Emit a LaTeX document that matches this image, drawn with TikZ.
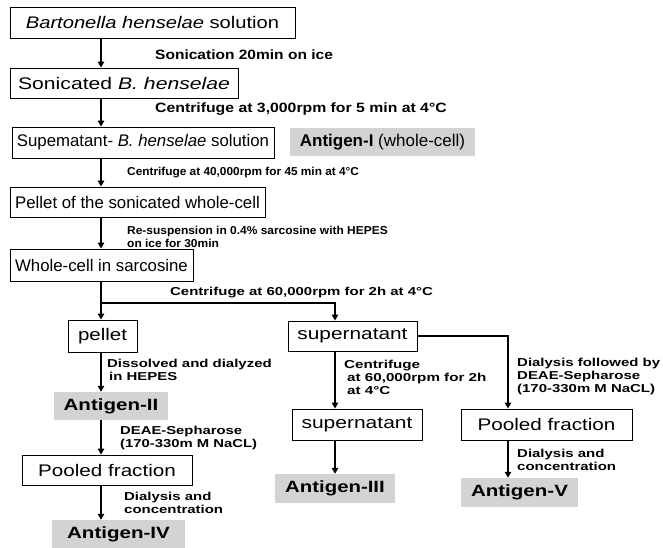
\documentclass[tikz,border=0pt]{standalone}
\usepackage{fontspec}
\usepackage{graphicx}
\setmainfont{Liberation Sans}
\usetikzlibrary{arrows.meta}
\definecolor{antgray}{RGB}{211,211,211}
\newcommand\sx[2]{\scalebox{#1}[1]{#2}}
\begin{document}
\begin{tikzpicture}[x=1pt,y=-1pt,
  box/.style={draw, line width=0.9pt, inner sep=0pt, font=\fontsize{16.8}{20}\selectfont},
  ant/.style={fill=antgray, inner sep=0pt, font=\fontsize{16.3}{20}\selectfont},
  lbl/.style={anchor=west, inner sep=0pt, align=left, font=\bfseries\fontsize{11.5}{13}\selectfont},
  lblbig/.style={lbl, font=\bfseries\fontsize{13.5}{15}\selectfont},
  arr/.style={line width=1.8pt, -{Triangle[length=6pt,width=6.5pt]}},
  ln/.style={line width=1.8pt}]
\useasboundingbox (0,0) rectangle (663,548);

% boxes
\node[box, minimum width=285pt, minimum height=31pt] (b1) at (152.5,22.5) {\sx{1.2}{\textit{Bartonella henselae} solution}};
\node[box, minimum width=228pt, minimum height=30pt] (b2) at (124,83) {\sx{1.26}{Sonicated \textit{B. henselae}}};
\node[box, minimum width=262pt, minimum height=31pt] (b3) at (143,142.5) {Supematant- \textit{B. henselae} solution};
\node[ant, minimum width=185pt, minimum height=28pt, font=\fontsize{17}{20}\selectfont] (ag1) at (382.5,142) {\textbf{Antigen-I} (whole-cell)};
\node[box, minimum width=255pt, minimum height=30pt] (b4) at (137.5,202) {Pellet of the sonicated whole-cell};
\node[box, minimum width=183pt, minimum height=32pt] (b5) at (101.5,265) {Whole-cell in sarcosine};
\node[box, minimum width=69pt, minimum height=32pt] (pel) at (102.5,336) {\sx{1.22}{pellet}};
\node[ant, minimum width=114pt, minimum height=28pt] (ag2) at (111,406) {\sx{1.26}{\textbf{Antigen-II}}};
\node[box, minimum width=170pt, minimum height=30pt] (pf1) at (107,470) {\sx{1.23}{Pooled fraction}};
\node[ant, minimum width=133pt, minimum height=28pt] (ag4) at (118.5,534) {\sx{1.26}{\textbf{Antigen-IV}}};
\node[box, minimum width=129pt, minimum height=30pt] (s1) at (352.5,336) {\sx{1.24}{supernatant}};
\node[box, minimum width=130pt, minimum height=31pt] (s2) at (357,424.5) {\sx{1.25}{supernatant}};
\node[ant, minimum width=120pt, minimum height=29pt] (ag3) at (335,488.5) {\sx{1.25}{\textbf{Antigen-III}}};
\node[box, minimum width=171pt, minimum height=31pt] (pf2) at (546.5,424.5) {\sx{1.23}{Pooled fraction}};
\node[ant, minimum width=117pt, minimum height=29pt] (ag5) at (519.5,492.5) {\sx{1.26}{\textbf{Antigen-V}}};

% labels
\node[lblbig] (l1) at (155,55) {\sx{1.15}{Sonication 20min on ice}};
\node[lblbig] (l2) at (155,109) {\sx{1.17}{Centrifuge at 3,000rpm for 5 min at 4°C}};
\node[lbl] (l3) at (127,173) {\sx{1.03}{Centrifuge at 40,000rpm for 45 min at 4°C}};
\node[lbl] (l4) at (127,236.5) {\sx{1.04}{Re-suspension in 0.4\% sarcosine with HEPES}\\\sx{1.04}{on ice for 30min}};
\node[lbl] (l5) at (170,293) {\sx{1.3}{Centrifuge at 60,000rpm for 2h at 4°C}};
\node[lbl] (l6) at (107,369.5) {\sx{1.3}{Dissolved and dialyzed}\\\hspace{2pt}\sx{1.3}{in HEPES}};
\node[lbl] (l7) at (120,438.5) {\sx{1.29}{DEAE-Sepharose}\\\sx{1.29}{(170-330m M NaCL)}};
\node[lbl] (l8) at (124,502.5) {\sx{1.3}{Dialysis and}\\\sx{1.3}{concentration}};
\node[lbl] (l9) at (344,377.5) {\sx{1.32}{Centrifuge}\\\hspace{3pt}\sx{1.32}{at 60,000rpm for 2h}\\\hspace{3pt}\sx{1.32}{at 4°C}};
\node[lbl] (l10) at (517,376.5) {\sx{1.3}{Dialysis followed by}\\\sx{1.3}{DEAE-Sepharose}\\\sx{1.3}{(170-330m M NaCL)}};
\node[lbl] (l11) at (517,460) {\sx{1.3}{Dialysis and}\\\sx{1.3}{concentration}};

% connectors
\coordinate (ax) at (101,0);
\coordinate (mx) at (335,0);
\coordinate (rx) at (508,0);
\coordinate (j) at (101,303);
\draw[arr] (b1.south -| ax) -- (b2.north -| ax);
\draw[arr] (b2.south -| ax) -- (b3.north -| ax);
\draw[arr] (b3.south -| ax) -- (b4.north -| ax);
\draw[arr] (b4.south -| ax) -- (b5.north -| ax);
\draw[ln] (b5.south -| ax) -- (j);
\draw[arr] (j) -- (pel.north -| ax);
\draw[arr] (j) -- (j -| mx) -- (s1.north -| mx);
\draw[arr] (pel.south -| ax) -- (ag2.north -| ax);
\draw[arr] (ag2.south -| ax) -- (pf1.north -| ax);
\draw[arr] (pf1.south -| ax) -- (ag4.north -| ax);
\draw[arr] (s1.south -| mx) -- (s2.north -| mx);
\draw[arr] (s2.south -| mx) -- (ag3.north -| mx);
\draw[arr] (s1.east) -- (s1.east -| rx) -- (pf2.north -| rx);
\draw[arr] (pf2.south -| rx) -- (ag5.north -| rx);
\end{tikzpicture}
\end{document}
